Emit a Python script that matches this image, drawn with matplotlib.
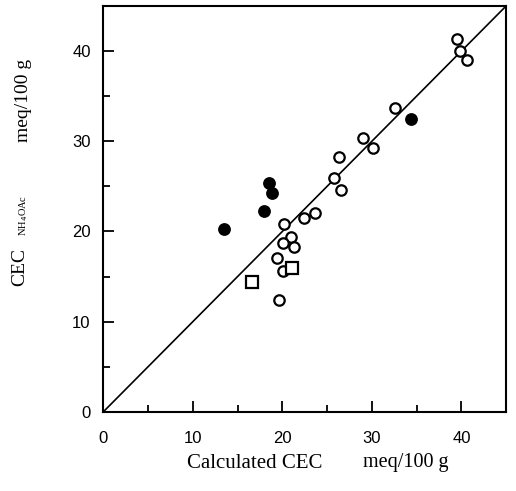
import numpy as np
import matplotlib
matplotlib.use("Agg")
import matplotlib.pyplot as plt

# open circles
open_x = [39.5, 39.8, 40.6, 32.6, 29.0, 30.1, 26.3, 25.8, 26.6, 23.6, 22.4, 20.2,
          21.0, 20.1, 21.3, 19.4, 20.1, 19.6]
open_y = [41.3, 40.0, 39.0, 33.7, 30.4, 29.2, 28.3, 25.9, 24.6, 22.1, 21.5, 20.8,
          19.4, 18.7, 18.3, 17.1, 15.6, 12.4]
# filled circles
fill_x = [34.4, 18.5, 18.8, 18.0, 13.5]
fill_y = [32.5, 25.4, 24.3, 22.3, 20.3]
# squares
sq_x = [21.1, 16.6]
sq_y = [15.9, 14.4]

ticks = [0, 10, 20, 30, 40]
minor = [5, 15, 25, 35]

def main():
    fig = plt.figure(figsize=(5.16, 4.91), dpi=100)
    ax = fig.add_axes([0.200, 0.161, 0.781, 0.827])

    ax.plot([0, 45], [0, 45], color="black", linewidth=1.2, zorder=1)
    ax.plot(open_x, open_y, "o", markersize=7.5, markerfacecolor="white",
            markeredgecolor="black", markeredgewidth=1.6, linestyle="none", zorder=3)
    ax.plot(fill_x, fill_y, "o", markersize=8.2, color="black", linestyle="none", zorder=3)
    ax.plot(sq_x, sq_y, "s", markersize=8.5, markerfacecolor="white",
            markeredgecolor="black", markeredgewidth=1.6, linestyle="none", zorder=3)

    ax.set_xlim(0, 45)
    ax.set_ylim(0, 45)
    ax.set_xticks(ticks)
    ax.set_yticks(ticks)
    ax.set_xticks(minor, minor=True)
    ax.set_yticks(minor, minor=True)
    ax.tick_params(which="both", direction="in", width=1.3)
    ax.tick_params(which="major", length=8)
    ax.tick_params(which="minor", length=5)
    ax.tick_params(axis="x", which="major", pad=13.5, labelsize=12)
    ax.tick_params(axis="y", which="major", pad=9, labelsize=12)
    for lab in ax.get_xticklabels() + ax.get_yticklabels():
        lab.set_family("Liberation Sans")
    for sp in ax.spines.values():
        sp.set_linewidth(1.5)

    serif = "Liberation Serif"
    fig.text(187 / 516, 1 - 463 / 491, "Calculated CEC", family=serif, fontsize=15,
             ha="left", va="center")
    fig.text(363 / 516, 1 - 463 / 491, "meq/100 g", family=serif, fontsize=14.5,
             ha="left", va="center")
    fig.text(20 / 516, 1 - 267 / 491, "CEC", family=serif, fontsize=14,
             rotation=90, ha="center", va="center")
    fig.text(24 / 516, 1 - 215 / 491, r"NH$_4$OAc", family=serif, fontsize=7.5,
             rotation=90, ha="center", va="center")
    fig.text(23 / 516, 1 - 100 / 491, "meq/100 g", family=serif, fontsize=14,
             rotation=90, ha="center", va="center")

    fig.savefig("out.png", dpi=100)

if __name__ == "__main__":
    main()
